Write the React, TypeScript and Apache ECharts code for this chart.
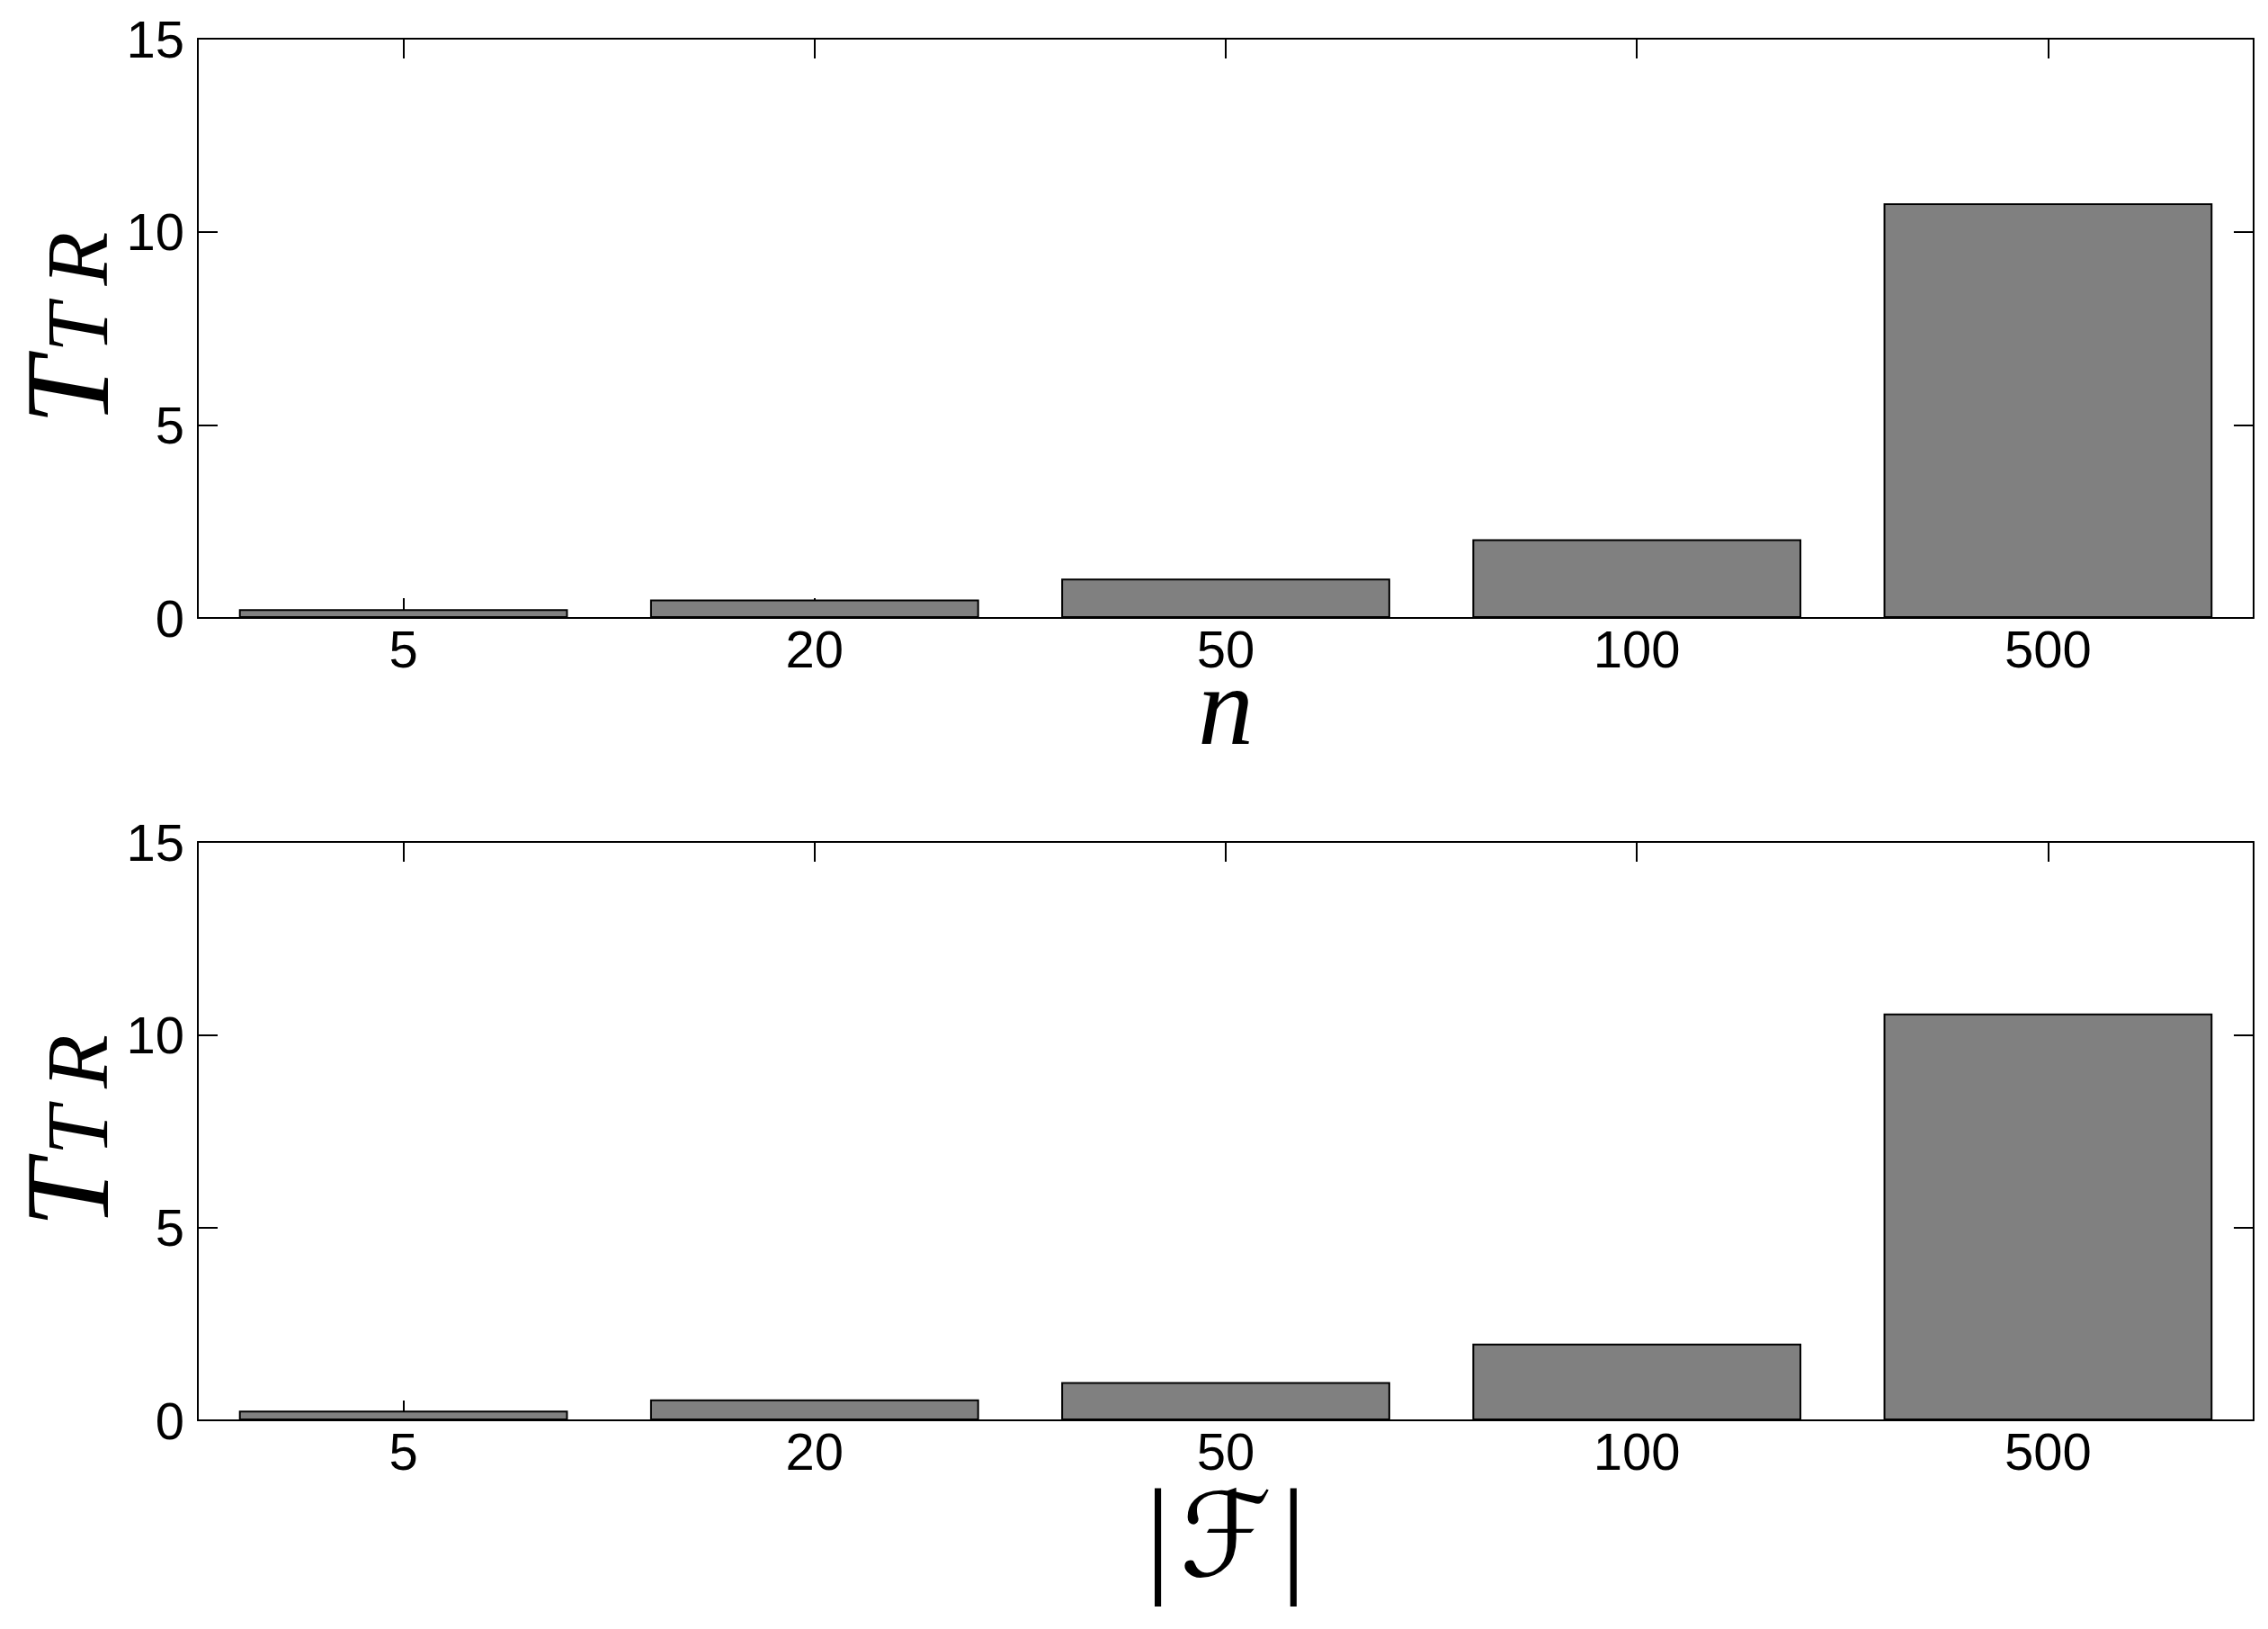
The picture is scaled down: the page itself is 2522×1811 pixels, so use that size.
import React, { useEffect, useRef } from 'react';
import * as echarts from 'echarts';

const categories = ['5', '20', '50', '100', '500'];
const ttrByN = [0.23, 0.48, 1.02, 2.04, 10.74];
const ttrByF = [0.25, 0.54, 0.99, 1.99, 10.55];
const yMin = 0;
const yMax = 15;
const yStep = 5;

export default function App() {
  const ref = useRef<HTMLDivElement>(null);
  useEffect(() => {
    document.body.style.margin = '0';
    const chart = echarts.init(ref.current!, null, { renderer: 'svg' });
    const lineStyle = { color: '#000', width: 2 };
    const axisLine = { show: true, onZero: false, lineStyle };
    const tickFont = { fontFamily: "'Liberation Sans', Arial, sans-serif", fontSize: 58, lineHeight: 48, color: '#000' };
    const serif = "'Liberation Serif', 'Times New Roman', serif";
    const grids = [
      { left: 220, right: 16, top: 43, height: 644, containLabel: false, outerBoundsMode: 'none' },
      { left: 220, right: 16, top: 936, height: 643, containLabel: false, outerBoundsMode: 'none' },
    ];
    const xNames = [
      {
        name: 'n',
        nameGap: 63,
        nameTextStyle: { fontFamily: serif, fontStyle: 'italic', fontSize: 124, lineHeight: 70, color: '#000' },
      },
      {
        name: '{b||}{f|ℱ}{b||}',
        nameGap: 78,
        nameTextStyle: {
          color: '#000',
          rich: {
            b: { fontFamily: serif, fontSize: 143, lineHeight: 100, color: '#000' },
            f: { fontFamily: "'DejaVu Serif', 'DejaVu Sans', serif", fontSize: 130, lineHeight: 100, color: '#000', padding: [0, 10, 0, 10] },
          },
        },
      },
    ];
    const yName = {
      name: '{t|T}{s|T}{r|R}',
      nameLocation: 'middle',
      nameGap: 85,
      nameMoveOverlap: false,
      nameTextStyle: {
        color: '#000',
        rich: {
          t: { fontFamily: serif, fontStyle: 'italic', fontSize: 134, lineHeight: 120, color: '#000', padding: [0, 6, 0, 0] },
          s: { fontFamily: serif, fontStyle: 'italic', fontSize: 98, lineHeight: 56, verticalAlign: 'bottom', color: '#000' },
          r: { fontFamily: serif, fontStyle: 'italic', fontSize: 98, lineHeight: 56, verticalAlign: 'bottom', color: '#000', padding: [0, 0, 0, 20] },
        },
      },
    };
    const xAxes: any[] = [];
    const yAxes: any[] = [];
    grids.forEach((_, i) => {
      xAxes.push({
        type: 'category',
        gridIndex: i,
        data: categories,
        position: 'bottom',
        axisLine,
        axisTick: { show: true, inside: true, alignWithLabel: true, length: 22, lineStyle },
        axisLabel: { ...tickFont, margin: 10 },
        nameLocation: 'middle',
        nameMoveOverlap: false,
        ...xNames[i],
      });
      xAxes.push({
        type: 'category',
        gridIndex: i,
        data: categories,
        position: 'top',
        axisLine,
        axisTick: { show: true, inside: true, alignWithLabel: true, length: 22, lineStyle },
        axisLabel: { show: false },
      });
      yAxes.push({
        type: 'value',
        gridIndex: i,
        min: yMin,
        max: yMax,
        interval: yStep,
        position: 'left',
        axisLine,
        axisTick: { show: true, inside: true, length: 22, lineStyle },
        axisLabel: { ...tickFont, margin: 15 },
        splitLine: { show: false },
        ...yName,
      });
      yAxes.push({
        type: 'value',
        gridIndex: i,
        min: yMin,
        max: yMax,
        interval: yStep,
        position: 'right',
        axisLine,
        axisTick: { show: true, inside: true, length: 22, lineStyle },
        axisLabel: { show: false },
        splitLine: { show: false },
      });
    });
    const barStyle = { color: '#808080', borderColor: '#000', borderWidth: 2 };
    chart.setOption({
      animation: false,
      backgroundColor: '#fff',
      grid: grids,
      xAxis: xAxes,
      yAxis: yAxes,
      series: [
        { type: 'bar', xAxisIndex: 0, yAxisIndex: 0, data: ttrByN, barWidth: '80%', itemStyle: barStyle },
        { type: 'bar', xAxisIndex: 2, yAxisIndex: 2, data: ttrByF, barWidth: '80%', itemStyle: barStyle },
      ],
    });
    return () => chart.dispose();
  }, []);
  return <div ref={ref} style={{ position: 'fixed', left: 0, top: 0, width: 2522, height: 1811 }} />;
}
